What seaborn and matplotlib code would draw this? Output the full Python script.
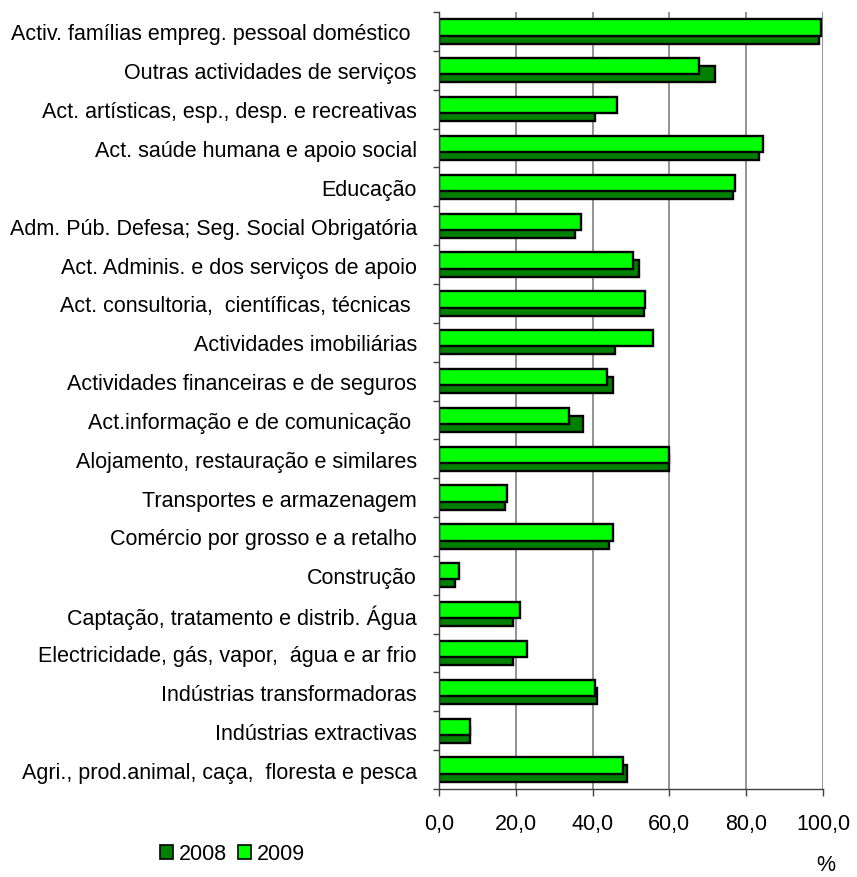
import matplotlib

matplotlib.use("Agg")
import matplotlib.pyplot as plt
import numpy as np
import pandas as pd
import seaborn as sns
from matplotlib.patches import Patch
from matplotlib.ticker import FixedLocator

# Sectors, top to bottom as in the chart
sectors = [
    "Activ. famílias empreg. pessoal doméstico ",
    "Outras actividades de serviços",
    "Act. artísticas, esp., desp. e recreativas",
    "Act. saúde humana e apoio social",
    "Educação",
    "Adm. Púb. Defesa; Seg. Social Obrigatória",
    "Act. Adminis. e dos serviços de apoio",
    "Act. consultoria,  científicas, técnicas ",
    "Actividades imobiliárias",
    "Actividades financeiras e de seguros",
    "Act.informação e de comunicação ",
    "Alojamento, restauração e similares",
    "Transportes e armazenagem",
    "Comércio por grosso e a retalho",
    "Construção",
    "Captação, tratamento e distrib. Água",
    "Electricidade, gás, vapor,  água e ar frio",
    "Indústrias transformadoras",
    "Indústrias extractivas",
    "Agri., prod.animal, caça,  floresta e pesca",
]

values_2008 = [99.0, 71.9, 40.6, 83.3, 76.6, 35.4, 52.1, 53.4, 45.9, 45.3,
               37.6, 59.8, 17.2, 44.3, 4.1, 19.3, 19.3, 41.2, 8.2, 49.0]
values_2009 = [99.4, 67.6, 46.4, 84.3, 77.0, 36.9, 50.5, 53.6, 55.7, 43.7,
               33.8, 59.8, 17.7, 45.3, 5.1, 21.2, 22.8, 40.6, 8.2, 47.9]

x_ticks = [0, 20, 40, 60, 80, 100]

COLOR_2008 = "#008000"
COLOR_2009 = "#00ff00"
BAR_H = 0.42
SHIFT = 0.103
FS = 15.5

df08 = pd.DataFrame({"sector": sectors, "value": values_2008})
df09 = pd.DataFrame({"sector": sectors, "value": values_2009})

sns.set_style("white")
plt.rcParams["font.family"] = ["Liberation Sans", "DejaVu Sans"]
plt.rcParams["text.color"] = "black"
plt.rcParams["xtick.color"] = "black"
plt.rcParams["ytick.color"] = "black"

fig = plt.figure(figsize=(8.57, 8.78), dpi=100)
ax = fig.add_axes([439 / 857, 1 - 790 / 878, 384 / 857, 777 / 878])

# 2008 behind, shifted down
sns.barplot(data=df08, y="sector", x="value", color=COLOR_2008, width=BAR_H,
            edgecolor="black", linewidth=1.7, errorbar=None, saturation=1, ax=ax)
n = len(ax.patches)
for p in ax.patches:
    p.set_y(p.get_y() + SHIFT)

# 2009 in front, shifted up
sns.barplot(data=df09, y="sector", x="value", color=COLOR_2009, width=BAR_H,
            edgecolor="black", linewidth=1.7, errorbar=None, saturation=1, ax=ax)
for p in ax.patches[n:]:
    p.set_y(p.get_y() - SHIFT)

ax.set_xlim(0, 100)
ax.set_ylim(len(sectors) - 0.5, -0.5)
ax.set_xlabel("")
ax.set_ylabel("")

ax.set_xticks(x_ticks)
ax.set_xticklabels([f"{t:.1f}".replace(".", ",") for t in x_ticks])
ax.xaxis.grid(True, color="#808080", linewidth=1.2)
ax.set_axisbelow(True)

# tick marks at category boundaries, labels at centres
ax.yaxis.set_minor_locator(FixedLocator(np.arange(-0.5, len(sectors), 1.0)))
ax.tick_params(axis="y", which="major", length=0, pad=16, labelsize=FS,
               labelcolor="black")
ax.tick_params(axis="y", which="minor", left=True, length=4, width=1, color="#404040")
ax.tick_params(axis="x", which="major", bottom=True, length=5, width=1,
               color="#404040", pad=12, labelsize=FS, labelcolor="black")

for side in ["top", "right"]:
    ax.spines[side].set_visible(False)
for side in ["left", "bottom"]:
    ax.spines[side].set_color("#404040")
    ax.spines[side].set_linewidth(1)

handles = [
    Patch(facecolor=COLOR_2008, edgecolor="black", linewidth=1.2, label="2008"),
    Patch(facecolor=COLOR_2009, edgecolor="black", linewidth=1.2, label="2009"),
]
fig.legend(handles=handles, loc="center left", bbox_to_anchor=(151 / 857, 1 - 855 / 878),
           ncol=2, frameon=False, fontsize=FS, handlelength=0.6, handleheight=0.6,
           handletextpad=0.3, columnspacing=0.5, borderaxespad=0)

fig.text(826 / 857, 1 - 866 / 878, "%", ha="center", va="center", fontsize=FS)

fig.savefig("out.png", dpi=100)
